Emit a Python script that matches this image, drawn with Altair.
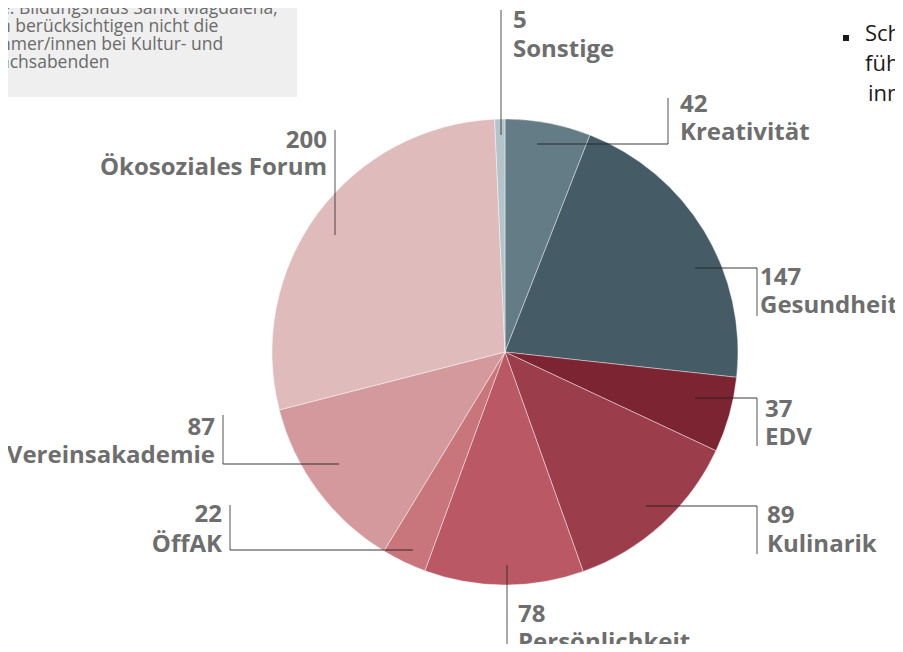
import altair as alt
import pandas as pd

# ---------------- data ----------------
categories = ["Kreativität", "Gesundheit", "EDV", "Kulinarik", "Persönlichkeit",
              "ÖffAK", "Vereinsakademie", "Ökosoziales Forum", "Sonstige"]
values = [42, 147, 37, 89, 78, 22, 87, 200, 5]
colors = ["#647c85", "#455c66", "#7d2432", "#9b3d4a", "#ba5965",
          "#c8757c", "#d4999d", "#e0bbbc", "#b4c4cb"]

note_lines = ["e: Bildungshaus Sankt Magdalena;",
              "n berücksichtigen nicht die",
              "hmer/innen bei Kultur- und",
              "ächsabenden"]
side_lines = ["inn", "Sch", "füh", "inne"]

# ---------------- layout (page pixels) ----------------
OFF = 8
W, H = 887, 636
CX, CY, R = 505, 352, 233

label_x = [680, 760, 765, 767, 518, 222, 215, 327, 513]
label_align = ["left", "left", "left", "left", "left", "right", "right", "right", "left"]
num_base = [112, 285, 417, 523, 622, 522, 435, 148, 28]
name_base = [140, 313, 445, 552, 650, 552, 463, 175, 57]

segments = [
    (501, 10, 501, 135),
    (537, 144, 668, 144), (668, 144, 668, 98),
    (695, 268, 757, 268), (757, 268, 757, 316),
    (695, 398, 757, 398), (757, 398, 757, 446),
    (646, 506, 757, 506), (757, 506, 757, 554),
    (507, 565, 507, 652),
    (413, 550, 230, 550), (230, 550, 230, 505),
    (339, 464, 223, 464), (223, 464, 223, 415),
    (335, 235, 335, 130),
]

xs = alt.Scale(domain=[0, W], range=[0, W])
ys = alt.Scale(domain=[0, H], range=[0, H])

def X(f):
    return alt.X(f, type="quantitative", scale=xs, axis=None)

def Y(f):
    return alt.Y(f, type="quantitative", scale=ys, axis=None)

# ---------------- grey note box ----------------
box_df = pd.DataFrame({"x": [0 - OFF], "x2": [297 - OFF], "y": [0 - OFF], "y2": [97 - OFF]})
box = alt.Chart(box_df).mark_rect(color="#efefef").encode(
    x=X("x"), x2="x2", y=Y("y"), y2="y2")

note_df = pd.DataFrame({"t": note_lines,
                        "x": [0 - OFF] * 4,
                        "y": [b - OFF for b in [14, 32, 50, 68]]})
note = alt.Chart(note_df).mark_text(align="left", baseline="alphabetic", font="Open Sans",
                                     fontSize=17.5, color="#6a6a6a").encode(
    x=X("x"), y=Y("y"), text="t:N")

# ---------------- clipped bullet text at top right ----------------
side_df = pd.DataFrame({"t": side_lines,
                        "x": [868 - OFF, 865 - OFF, 865 - OFF, 868 - OFF],
                        "y": [b - OFF for b in [8, 41, 71, 101]]})
side = alt.Chart(side_df).mark_text(align="left", baseline="alphabetic", font="Open Sans",
                                     fontSize=22, color="#1a1a1a").encode(
    x=X("x"), y=Y("y"), text="t:N")

bullet_df = pd.DataFrame({"x": [843 - OFF], "x2": [849 - OFF], "y": [35 - OFF], "y2": [41 - OFF]})
bullet = alt.Chart(bullet_df).mark_rect(color="#1a1a1a").encode(
    x=X("x"), x2="x2", y=Y("y"), y2="y2")

# ---------------- pie ----------------
pie_df = pd.DataFrame({"cat": categories, "val": values, "ord": list(range(len(values)))})
pie = alt.Chart(pie_df).mark_arc(radius=R, stroke="white", strokeWidth=0.6,
                                 strokeOpacity=0.7).encode(
    theta=alt.Theta("val:Q", stack=True),
    order=alt.Order("ord:Q"),
    color=alt.Color("cat:N", scale=alt.Scale(domain=categories, range=colors), legend=None),
    x=alt.value(CX - OFF), y=alt.value(CY - OFF))

# ---------------- leader lines ----------------
seg_df = pd.DataFrame({"x1": [s[0] - OFF for s in segments], "y1": [s[1] - OFF for s in segments],
                       "x2": [s[2] - OFF for s in segments], "y2": [s[3] - OFF for s in segments]})
rules = alt.Chart(seg_df).mark_rule(color="#222222", opacity=0.6, strokeWidth=1.3).encode(
    x=X("x1"), y=Y("y1"), x2="x2", y2="y2")

# ---------------- labels ----------------
rows = []
for c, v, lx, al, nb, mb in zip(categories, values, label_x, label_align, num_base, name_base):
    rows.append({"t": str(v), "x": lx - OFF, "y": nb - OFF, "al": al})
    rows.append({"t": c, "x": lx - OFF, "y": mb - OFF, "al": al})
lab_df = pd.DataFrame(rows)

def label_layer(al):
    return alt.Chart(lab_df[lab_df["al"] == al]).mark_text(
        align=al, baseline="alphabetic", font="Open Sans", fontWeight="bold",
        fontSize=24, color="#6e6e6e").encode(x=X("x"), y=Y("y"), text="t:N")

chart = alt.layer(box, note, side, bullet, pie, rules,
                  label_layer("left"), label_layer("right")).properties(
    width=W, height=H,
    autosize=alt.AutoSizeParams(type="none"),
    padding=0,
    background="white",
).configure_view(stroke=None)

chart.save("out.html", embed_options={"renderer": "svg", "actions": False})
